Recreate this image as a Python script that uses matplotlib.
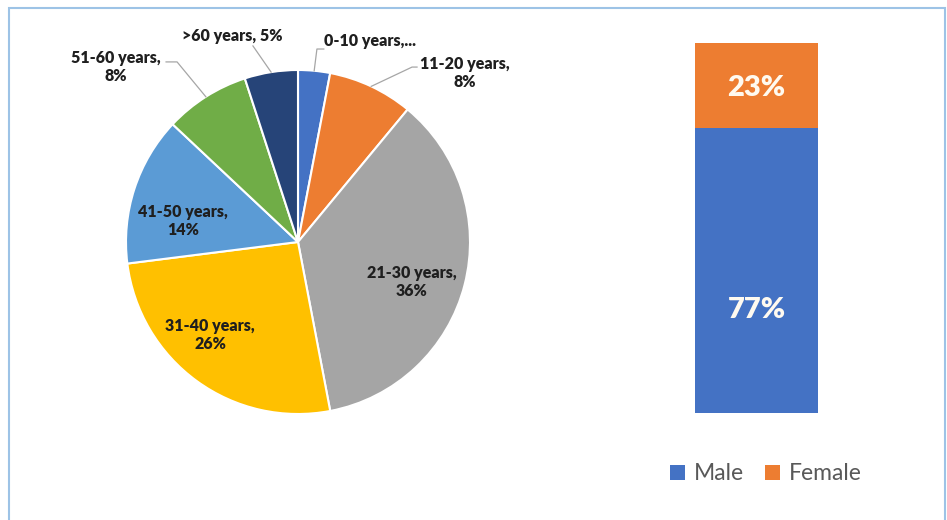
import matplotlib.pyplot as plt
from matplotlib.patches import Rectangle
import numpy as np

plt.rcParams['font.family'] = ['Lato', 'DejaVu Sans']

# данные по возрасту
ages = ['0-10 years', '11-20 years', '21-30 years', '31-40 years',
        '41-50 years', '51-60 years', '>60 years']
age_pct = [3, 8, 36, 26, 14, 8, 5]
age_colors = ['#4472C4', '#ED7D31', '#A5A5A5', '#FFC000', '#5B9BD5', '#70AD47', '#264478']

# данные по полу
genders = ['Male', 'Female']
gender_pct = [77, 23]
gender_colors = ['#4472C4', '#ED7D31']

# подписи секторов (текст, позиция в координатах круга)
pie_texts = ['0-10 years,...', '11-20 years,\n8%', '21-30 years,\n36%', '31-40 years,\n26%',
             '41-50 years,\n14%', '51-60 years,\n8%', '>60 years, 5%']
text_pos = [(0.42, 1.17), (0.97, 0.98), (0.66, -0.23), (-0.51, -0.54),
            (-0.67, 0.12), (-1.06, 1.02), (-0.38, 1.20)]
# линии-выноски: начало и излом (None - без выноски)
leader = [[(0.150, 1.122), (0.110, 1.122)],
          [(0.692, 1.017), (0.663, 1.017)],
          None, None, None,
          [(-0.767, 1.047), (-0.703, 1.047)],
          [(-0.262, 1.140)]]
# где по высоте сегмента стоит подпись столбца
bar_label_frac = [0.36, 0.47]

W, H = 947, 520
fig = plt.figure(figsize=(W / 100, H / 100), dpi=100)

# рамка
fig.add_artist(Rectangle((8.5 / W, -0.05), 936.5 / W, 1.05 - 8 / H, transform=fig.transFigure,
                         fill=False, edgecolor='#9DC3E6', linewidth=1.5))

# круговая диаграмма
cx, cy, r = 298, 242, 172
ax = fig.add_axes([(cx - r) / W, (H - cy - r) / H, 2 * r / W, 2 * r / H])
wedges, _ = ax.pie(age_pct, colors=age_colors, startangle=90, counterclock=False,
                   wedgeprops=dict(edgecolor='white', linewidth=1.5))
ax.set_xlim(-1, 1)
ax.set_ylim(-1, 1)
ax.set_aspect('equal')
ax.axis('off')

for i, w in enumerate(wedges):
    ax.text(*text_pos[i], pie_texts[i], ha='center', va='center', fontsize=11.5,
            fontweight='heavy', color='#1F1F1F', linespacing=1.15)
    if leader[i] is not None:
        ang = np.deg2rad((w.theta1 + w.theta2) / 2)
        pts = leader[i] + [(np.cos(ang), np.sin(ang))]
        xs, ys = zip(*pts)
        ax.plot(xs, ys, color='#A6A6A6', linewidth=0.9, clip_on=False)

# столбец по полу
bx = fig.add_axes([695 / W, 1 - 413 / H, 123 / W, 370 / H])
bottom = 0
for g, v, c, f in zip(genders, gender_pct, gender_colors, bar_label_frac):
    bx.bar(0, v, width=1, bottom=bottom, color=c, label=g)
    bx.text(0, bottom + v * f, f'{v}%', ha='center', va='center', color='#FFFAF0',
            fontsize=21, fontweight='heavy')
    bottom += v
bx.set_xlim(-0.5, 0.5)
bx.set_ylim(0, 100)
bx.axis('off')

fig.legend(loc='center', bbox_to_anchor=(766 / W, 1 - 474 / H), ncol=2, frameon=False,
           fontsize=16.5, labelcolor='#595959', handlelength=0.65, handleheight=0.65,
           handletextpad=0.4, columnspacing=0.9)

plt.savefig('out.png', dpi=100)
